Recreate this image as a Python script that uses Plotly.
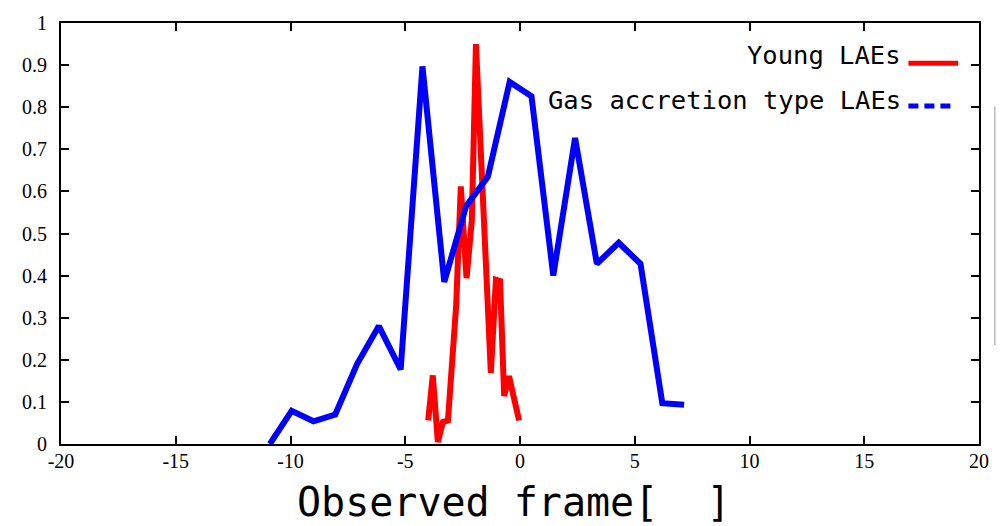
import plotly.graph_objects as go

# Gas accretion type LAEs profile
x_gas = [-10.9, -9.95, -9.0, -8.05, -7.1, -6.15, -5.2, -4.25, -3.3, -2.35,
         -1.4, -0.45, 0.5, 1.45, 2.4, 3.35, 4.3, 5.25, 6.2, 7.15]
y_gas = [0.0, 0.079, 0.054, 0.07, 0.19, 0.28, 0.177, 0.897, 0.385, 0.565,
         0.635, 0.86, 0.826, 0.40, 0.727, 0.428, 0.478, 0.428, 0.097, 0.093]

# Young LAEs profile
x_young = [-4.0, -3.8, -3.58, -3.36, -3.14, -2.78, -2.58, -2.33, -2.1, -1.92,
           -1.27, -1.05, -0.87, -0.69, -0.48, -0.04]
y_young = [0.056, 0.163, 0.005, 0.052, 0.056, 0.33, 0.612, 0.394, 0.53, 0.95,
           0.169, 0.39, 0.387, 0.114, 0.161, 0.056]

x_ticks = [-20, -15, -10, -5, 0, 5, 10, 15, 20]
y_ticks = [0, 0.1, 0.2, 0.3, 0.4, 0.5, 0.6, 0.7, 0.8, 0.9, 1]
y_tick_text = ["0", "0.1", "0.2", "0.3", "0.4", "0.5", "0.6", "0.7", "0.8", "0.9", "1"]

series_names = ["Young LAEs", "Gas accretion type LAEs"]
axis_title = "Observed frame[  ]"

RED = "#ff0000"
BLUE = "#0000ff"

fig = go.Figure()
fig.add_trace(go.Scatter(x=x_young, y=y_young, mode="lines",
                         line=dict(color=RED, width=6), name=series_names[0],
                         showlegend=False))
fig.add_trace(go.Scatter(x=x_gas, y=y_gas, mode="lines",
                         line=dict(color=BLUE, width=6), name=series_names[1],
                         showlegend=False))

tick_font = dict(family="'Liberation Serif', 'Times New Roman', serif", size=20,
                 color="black")
axis_common = dict(showline=True, linecolor="black", linewidth=2, mirror="ticks",
                   ticks="inside", ticklen=8, tickwidth=1.5, tickcolor="black",
                   showgrid=False, zeroline=False, tickfont=tick_font)

fig.update_xaxes(range=[-20, 20], tickvals=x_ticks,
                 ticktext=[str(v) for v in x_ticks], ticklabelstandoff=-2,
                 **axis_common)
fig.update_yaxes(range=[0, 1], tickvals=y_ticks, ticktext=y_tick_text,
                 ticklabelstandoff=8, **axis_common)

# Key: text on the left, line sample on the right
key_font = dict(family="DejaVu Sans Mono", size=25.5, color="black")
fig.add_annotation(xref="paper", yref="paper", x=0.9177, y=0.923,
                   xanchor="right", yanchor="middle", text=series_names[0],
                   showarrow=False, font=key_font)
fig.add_annotation(xref="paper", yref="paper", x=0.9177, y=0.818,
                   xanchor="right", yanchor="middle", text=series_names[1],
                   showarrow=False, font=key_font)
fig.add_shape(type="line", xref="paper", yref="paper",
              x0=0.9231, x1=0.9773, y0=0.9044, y1=0.9044,
              line=dict(color=RED, width=5))
fig.add_shape(type="line", xref="paper", yref="paper",
              x0=0.9231, x1=0.9697, y0=0.803, y1=0.803,
              line=dict(color=BLUE, width=5, dash="10px,6px"))

# Axis title
fig.add_annotation(xref="paper", yref="paper", x=0.493, y=-0.1375,
                   xanchor="center", yanchor="middle", text=axis_title,
                   showarrow=False,
                   font=dict(family="DejaVu Sans Mono", size=40, color="black"))

# Thin grey rule at the right edge
fig.add_shape(type="line", xref="paper", yref="paper",
              x0=1.0173, x1=1.0173, y0=0.235, y1=0.802,
              line=dict(color="#999999", width=1))

fig.update_layout(width=1001, height=526, paper_bgcolor="white",
                  plot_bgcolor="white",
                  margin=dict(l=61, r=17, t=15, b=82))

fig.write_html("out.html")
